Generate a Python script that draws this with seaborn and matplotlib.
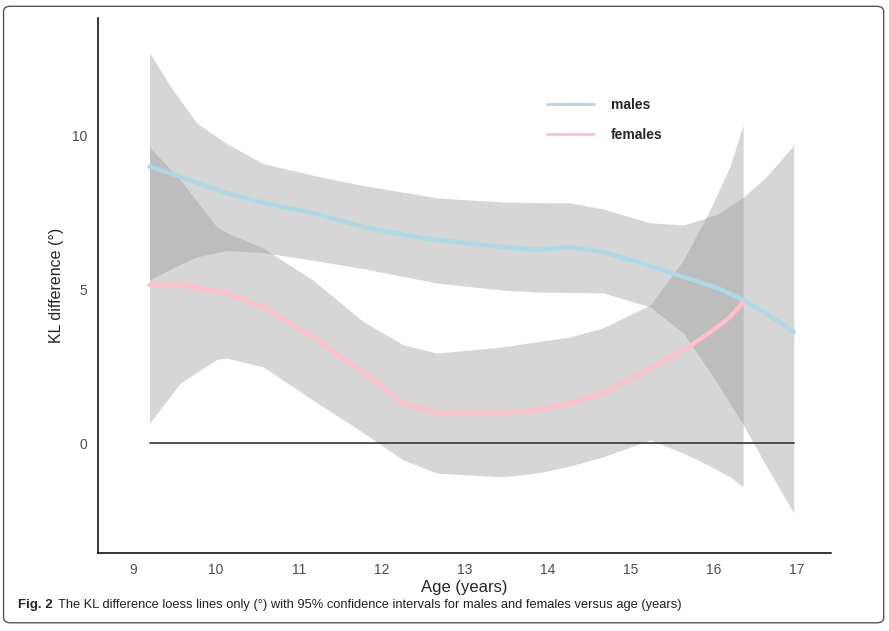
import numpy as np
import pandas as pd
import seaborn as sns
import matplotlib.pyplot as plt
from matplotlib.patches import FancyBboxPatch

# Valores (loess + IC 95%)
male_age = [9.2, 9.48, 9.77, 10.13, 10.57, 11.17, 11.78, 12.26, 12.67, 13.46, 13.87,
            14.27, 14.67, 15.24, 15.64, 16.05, 16.36, 16.65, 16.97]
male_fit = [9.0, 8.75, 8.48, 8.14, 7.82, 7.49, 7.04, 6.78, 6.61, 6.38, 6.29,
            6.38, 6.22, 5.77, 5.41, 5.05, 4.66, 4.2, 3.62]
male_upper = [12.7, 11.5, 10.42, 9.75, 9.1, 8.72, 8.38, 8.17, 7.98, 7.85, 7.83,
              7.82, 7.62, 7.17, 7.1, 7.45, 8.0, 8.7, 9.7]
male_lower = [5.31, 5.7, 6.06, 6.27, 6.2, 5.95, 5.68, 5.42, 5.21, 4.98, 4.92,
              4.9, 4.89, 4.43, 3.58, 1.95, 0.6, -0.8, -2.28]

female_age = [9.2, 9.57, 10.01, 10.13, 10.57, 11.17, 11.78, 12.26, 12.67, 13.46, 13.87,
              14.27, 14.67, 15.24, 15.64, 15.96, 16.2, 16.36]
female_fit = [5.15, 5.15, 4.95, 4.89, 4.43, 3.45, 2.28, 1.3, 0.98, 0.98, 1.07,
              1.3, 1.63, 2.43, 3.03, 3.6, 4.1, 4.59]
female_upper = [9.64, 8.57, 7.04, 6.85, 6.35, 5.31, 3.95, 3.2, 2.93, 3.13, 3.3,
                3.45, 3.75, 4.5, 5.96, 7.59, 9.0, 10.36]
female_lower = [0.65, 1.95, 2.72, 2.77, 2.48, 1.4, 0.33, -0.55, -0.98, -1.1, -0.98,
                -0.75, -0.45, 0.1, -0.33, -0.75, -1.1, -1.43]

x_ticks = [9, 10, 11, 12, 13, 14, 15, 16, 17]
y_ticks = [0, 5, 10]

df = pd.concat([
    pd.DataFrame({'age': male_age, 'kl': male_fit, 'sex': 'males'}),
    pd.DataFrame({'age': female_age, 'kl': female_fit, 'sex': 'females'}),
])

sns.set_style('white')
plt.rcParams['font.family'] = ['Liberation Sans', 'DejaVu Sans']

fig = plt.figure(figsize=(8.89, 6.31), dpi=100)
ax = fig.add_axes([0.1102, 0.1236, 0.8246, 0.8479])

ax.fill_between(male_age, male_lower, male_upper, color='#999999', alpha=0.4, lw=0)
ax.fill_between(female_age, female_lower, female_upper, color='#999999', alpha=0.4, lw=0)
ax.plot([male_age[0], male_age[-1]], [0, 0], color='#333333', lw=1.2)

sns.lineplot(data=df, x='age', y='kl', hue='sex', hue_order=['males', 'females'],
             palette={'males': '#ADD8E6', 'females': '#FFC0CB'}, lw=3.2, ax=ax,
             sort=False, estimator=None)

ax.set_xlim(8.578, 17.42)
ax.set_ylim(-3.58, 13.84)
ax.set_xticks(x_ticks)
ax.set_yticks(y_ticks)
ax.tick_params(axis='both', direction='out', length=4, width=0.8, color='#333333',
               labelcolor='#4D4D4D', labelsize=10)
for s in ['top', 'right']:
    ax.spines[s].set_visible(False)
for s in ['left', 'bottom']:
    ax.spines[s].set_color('black')
    ax.spines[s].set_linewidth(1.1)
ax.set_xlabel('Age (years)', fontsize=12, labelpad=2)
ax.set_ylabel('KL difference (°)', fontsize=11.5, labelpad=6)

leg = ax.legend(title=None, frameon=False, loc='upper left',
                bbox_to_anchor=(0.595, 0.874), handlelength=3.4,
                labelspacing=1.15, handletextpad=1.2, fontsize=10)
for t in leg.get_texts():
    t.set_fontweight('bold')
for h in leg.get_lines():
    h.set_linewidth(2)

cap_font = ['Liberation Sans Narrow', 'Liberation Sans', 'DejaVu Sans']
fig.text(0.02, 0.037, 'Fig. 2', fontsize=9.5, fontweight='bold', family=cap_font)
fig.text(0.065, 0.037, 'The KL difference loess lines only (°) with 95% confidence '
         'intervals for males and females versus age (years)', fontsize=9.3,
         family=cap_font, color='#222222')

frame = FancyBboxPatch((0.004, 0.013), 0.99, 0.977, boxstyle='round,pad=0,rounding_size=0.008',
                       transform=fig.transFigure, fill=False, ec='#555555', lw=1.0)
fig.patches.append(frame)

plt.savefig('out.png', dpi=100)
plt.close()
